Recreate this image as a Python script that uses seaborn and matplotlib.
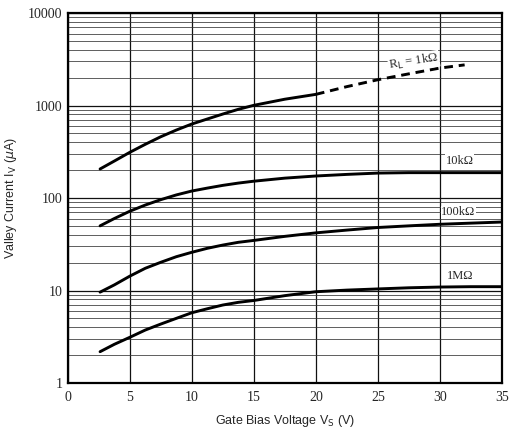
import numpy as np
import pandas as pd
import matplotlib
matplotlib.use("Agg")
import matplotlib.pyplot as plt
import seaborn as sns
from matplotlib.ticker import LogLocator, FixedLocator, NullFormatter

# Data
vs_1k_solid = [2.6, 3.75, 5, 6.25, 7.5, 8.75, 10, 11.25, 12.5, 13.75, 15, 17.5, 20]
iv_1k_solid = [206, 251, 312, 381, 460, 543, 631, 715, 809, 910, 1005, 1170, 1320]
vs_1k_dash = [20, 22.5, 25, 27.5, 30, 32]
iv_1k_dash = [1320, 1600, 1900, 2200, 2540, 2750]

vs_curve = [2.6, 3.75, 5, 6.25, 7.5, 8.75, 10, 11.25, 12.5, 13.75, 15,
            17.5, 20, 22.5, 25, 27.5, 30, 32.5, 35]
iv_10k = [50, 60, 72, 84, 96, 108, 119, 128, 137, 145, 152,
          164, 173, 180, 186, 188, 188, 188, 188]
iv_100k = [9.6, 11.5, 14.3, 17.4, 20.2, 23.2, 25.9, 28.6, 31, 33.2, 34.8,
           38.5, 42, 45, 48, 50, 52, 53.5, 55]
iv_1M = [2.18, 2.62, 3.12, 3.74, 4.34, 5.0, 5.75, 6.35, 6.97, 7.45, 7.8,
         8.8, 9.7, 10.1, 10.4, 10.7, 10.9, 11.0, 11.0]

x_ticks = [0, 5, 10, 15, 20, 25, 30, 35]
y_ticks = [1, 10, 100, 1000, 10000]
y_tick_labels = ["1", "10", "100", "1000", "10000"]

labels = ["R$_\\mathrm{L}$ = 1kΩ", "10kΩ", "100kΩ", "1MΩ"]
label_x = [27.9, 31.6, 31.5, 31.6]
label_y = [2950, 250, 70, 14.4]
label_rot = [9, 0, 0, 0]

sns.set_theme(style="white")
plt.rcParams["font.family"] = ["Liberation Sans", "DejaVu Sans"]

fig = plt.figure(figsize=(5.10, 4.34), dpi=100)
ax = fig.add_axes([0.133, 0.1175, 0.851, 0.8525])
ax.set_yscale("log")
ax.set_xlim(0, 35)
ax.set_ylim(1, 10000)

# grid
ax.yaxis.set_major_locator(FixedLocator(y_ticks))
ax.yaxis.set_minor_locator(LogLocator(base=10, subs=np.arange(2, 10)))
ax.yaxis.set_minor_formatter(NullFormatter())
ax.xaxis.set_major_locator(FixedLocator(x_ticks))
ax.grid(True, which="major", axis="both", color="#111111", lw=0.9)
ax.grid(True, which="minor", axis="y", color="#333333", lw=0.55)
ax.tick_params(which="both", length=0)

df_solid = pd.DataFrame({
    "Vs": vs_1k_solid + vs_curve * 3,
    "Iv": iv_1k_solid + iv_10k + iv_100k + iv_1M,
    "RL": ["1k"] * len(vs_1k_solid) + ["10k"] * len(vs_curve)
          + ["100k"] * len(vs_curve) + ["1M"] * len(vs_curve),
})
df_dash = pd.DataFrame({"Vs": vs_1k_dash, "Iv": iv_1k_dash})

sns.lineplot(data=df_solid, x="Vs", y="Iv", units="RL", estimator=None,
             color="black", lw=2.1, ax=ax, sort=False)
sns.lineplot(data=df_dash, x="Vs", y="Iv", color="black", lw=2.1,
             ax=ax, sort=False, linestyle=(0, (3, 2)))

for t, x, y, r in zip(labels, label_x, label_y, label_rot):
    ax.text(x, y, t, ha="center", va="center", rotation=r, fontsize=9,
            family=["Liberation Serif", "DejaVu Serif"],
            bbox=dict(facecolor="white", edgecolor="none", pad=0.5))

ax.set_yticks(y_ticks)
ax.set_yticklabels(y_tick_labels)
for lab in ax.get_xticklabels() + ax.get_yticklabels():
    lab.set_family(["Liberation Serif", "DejaVu Serif"])
    lab.set_fontsize(10)
ax.tick_params(axis="x", pad=6)
ax.tick_params(axis="y", pad=4)

ax.set_xlabel("Gate Bias Voltage V$_\\mathrm{S}$ (V)", fontsize=9, labelpad=6)
ax.set_ylabel("Valley Current I$_\\mathrm{V}$ ($\\mu$A)", fontsize=9, labelpad=6)

for s in ax.spines.values():
    s.set_color("black")
    s.set_linewidth(1.6)

fig.savefig("out.png", dpi=100)
